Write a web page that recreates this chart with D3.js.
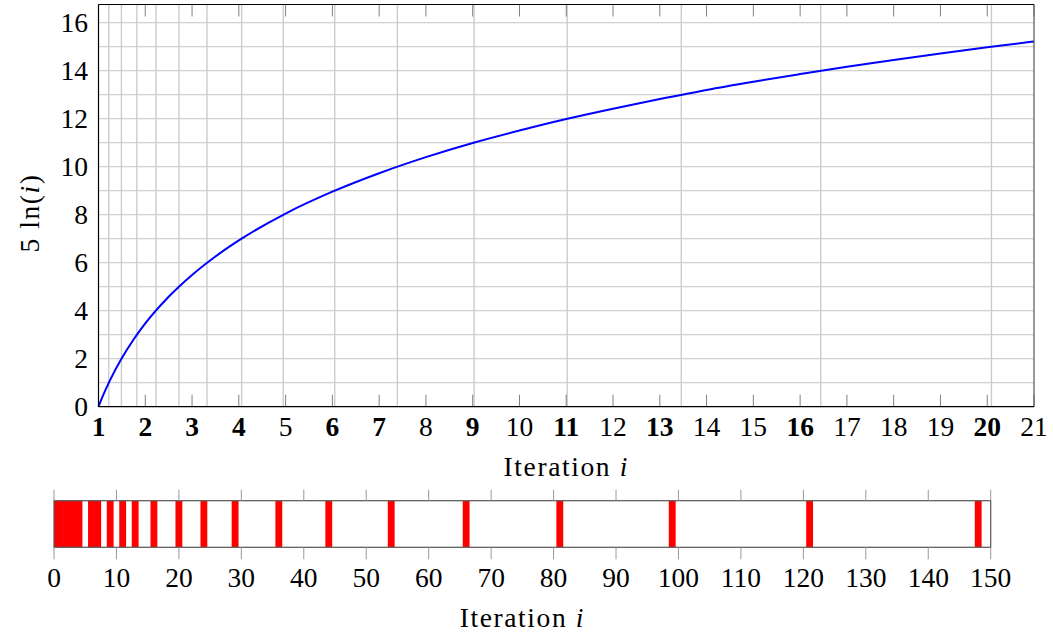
<!DOCTYPE html>
<html><head><meta charset="utf-8">
<script src="https://cdn.jsdelivr.net/npm/d3@7"></script>
<style>
body{margin:0;background:#fff;}
text{font-family:"Liberation Serif","Times New Roman",serif;fill:#000;}
</style></head>
<body><svg id="c" width="1053" height="635"></svg>
<script>
// ---- data ----
const curveIters = [1,1.1,1.25,1.5,1.75,2,2.5,3,3.5,4,5,6,7,8,9,10,11,12,13,14,15,16,17,18,19,20,21];
const curveValues = [0,0.48,1.12,2.03,2.80,3.47,4.58,5.49,6.26,6.93,8.05,8.96,9.73,10.40,10.99,11.51,11.99,12.42,12.82,13.20,13.54,13.86,14.17,14.45,14.72,14.98,15.22];
const xTickLabels = [1,2,3,4,5,6,7,8,9,10,11,12,13,14,15,16,17,18,19,20,21];
const boldTicks = [1,2,3,4,6,7,9,11,13,16,20];
const yTickLabels = [0,2,4,6,8,10,12,14,16];
const yGrid = [1,2,3,4,5,6,7,8,9,10,11,12,13,14,15,16];
const xGridIters = [1.22,1.49,1.82,2.23,2.72,3.32,4.06,4.95,6.05,7.39,9.03,11.02,13.46,16.44,20.09];
const redIters = [0,1,2,3,4,6,7,9,11,13,16,20,24,29,36,44,54,66,81,99,121,148];
const bottomTicks = [0,10,20,30,40,50,60,70,80,90,100,110,120,130,140,150];

(function(){
const svg = d3.select("#c");
const FS = 27.5;

// ---- top plot ----
const L = 98.5, R = 1034, T = 4.5, B = 406.7;
const x = d3.scaleLinear().domain([1,21]).range([L,R]);
const y = d3.scaleLinear().domain([0,16.76]).range([B,T]);

const g = svg.append("g");
g.selectAll(".hg").data(yGrid).join("line")
  .attr("x1",L).attr("x2",R).attr("y1",d=>y(d)).attr("y2",d=>y(d))
  .attr("stroke","#c4c4c4").attr("stroke-width",1);
g.selectAll(".vg").data(xGridIters).join("line")
  .attr("x1",d=>x(d)).attr("x2",d=>x(d)).attr("y1",T).attr("y2",B)
  .attr("stroke","#cccccc").attr("stroke-width",1.4);

g.selectAll(".tt").data(xTickLabels).join("line")
  .attr("x1",d=>x(d)).attr("x2",d=>x(d)).attr("y1",T).attr("y2",T+12)
  .attr("stroke","#808080").attr("stroke-width",1);
g.selectAll(".bt").data(xTickLabels).join("line")
  .attr("x1",d=>x(d)).attr("x2",d=>x(d)).attr("y1",B).attr("y2",B-12)
  .attr("stroke","#808080").attr("stroke-width",1);

const line = d3.line().x((d,i)=>x(curveIters[i])).y(d=>y(d)).curve(d3.curveMonotoneX);
g.append("path").datum(curveValues).attr("d",line)
  .attr("fill","none").attr("stroke","#0000ff").attr("stroke-width",2);

g.append("line").attr("x1",R).attr("x2",R).attr("y1",T).attr("y2",B).attr("stroke","#555").attr("stroke-width",1.2);
g.append("line").attr("x1",L).attr("x2",R).attr("y1",T).attr("y2",T).attr("stroke","#000").attr("stroke-width",1.2);
g.append("line").attr("x1",L).attr("x2",R).attr("y1",B).attr("y2",B).attr("stroke","#000").attr("stroke-width",1.2);
g.append("line").attr("x1",L).attr("x2",L).attr("y1",T).attr("y2",B).attr("stroke","#000").attr("stroke-width",1.2);

g.selectAll(".xl").data(xTickLabels).join("text")
  .attr("x",d=>x(d)).attr("y",436).attr("text-anchor","middle")
  .attr("font-size",FS).attr("font-weight",d=>boldTicks.includes(d)?"bold":"normal")
  .text(d=>d);
g.selectAll(".yl").data(yTickLabels).join("text")
  .attr("x",88).attr("y",d=>y(d)+9).attr("text-anchor","end")
  .attr("font-size",FS).text(d=>d);

const xl = g.append("text").attr("x",(L+R)/2).attr("y",476).attr("text-anchor","middle")
  .attr("font-size",FS).attr("letter-spacing",1.6);
xl.append("tspan").text("Iteration ");
xl.append("tspan").attr("font-style","italic").text("i");

const yl = g.append("text").attr("transform","translate(39,213) rotate(-90)").attr("text-anchor","middle")
  .attr("font-size",FS).attr("letter-spacing",1.6);
yl.append("tspan").text("5 ln(");
yl.append("tspan").attr("font-style","italic").text("i");
yl.append("tspan").text(")");

// ---- bottom plot ----
const BL = 54, BR = 990.7, BT = 500.7, BB = 547.3;
const xb = d3.scaleLinear().domain([0,150]).range([BL,BR]);
const bot = svg.append("g");
svg.append("clipPath").attr("id","bc").append("rect").attr("x",BL).attr("y",BT).attr("width",BR-BL).attr("height",BB-BT);

bot.append("g").attr("clip-path","url(#bc)").selectAll("rect").data(redIters).join("rect")
  .attr("x",d=>xb(d-0.5)-0.3).attr("width",d=>xb(d+0.5)-xb(d-0.5)+0.6)
  .attr("y",BT).attr("height",BB-BT).attr("fill","#ff0000");

bot.append("rect").attr("x",BL).attr("y",BT).attr("width",BR-BL).attr("height",BB-BT)
  .attr("fill","none").attr("stroke","#555").attr("stroke-width",1.2);

bot.selectAll(".bt1").data(bottomTicks).join("line")
  .attr("x1",d=>xb(d)).attr("x2",d=>xb(d)).attr("y1",BT).attr("y2",BT-11)
  .attr("stroke","#999").attr("stroke-width",1);
bot.selectAll(".bt2").data(bottomTicks).join("line")
  .attr("x1",d=>xb(d)).attr("x2",d=>xb(d)).attr("y1",BB).attr("y2",BB+12)
  .attr("stroke","#999").attr("stroke-width",1);
bot.selectAll(".bl").data(bottomTicks).join("text")
  .attr("x",d=>xb(d)).attr("y",587).attr("text-anchor","middle").attr("font-size",FS).text(d=>d);

const xl2 = bot.append("text").attr("x",(BL+BR)/2).attr("y",627).attr("text-anchor","middle")
  .attr("font-size",FS).attr("letter-spacing",1.6);
xl2.append("tspan").text("Iteration ");
xl2.append("tspan").attr("font-style","italic").text("i");
})();
</script></body></html>
